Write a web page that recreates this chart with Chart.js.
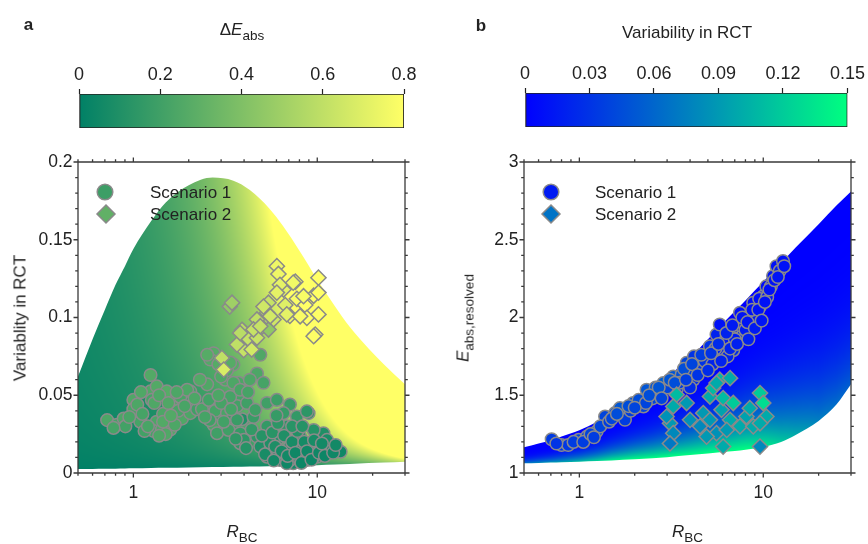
<!DOCTYPE html>
<html><head><meta charset="utf-8">
<script src="https://cdn.jsdelivr.net/npm/chart.js@4.4.1/dist/chart.umd.min.js"></script>
<style>
html,body{margin:0;padding:0;background:#fff;}
#wrap{position:relative;width:868px;height:544px;overflow:hidden;font-family:"Liberation Sans",Arial,sans-serif;color:#222;}
canvas{position:absolute;}
.t{position:absolute;white-space:nowrap;line-height:1;transform:translate(-50%,-50%);font-size:17px;}
.l{position:absolute;white-space:nowrap;line-height:1;transform:translate(0,-50%);font-size:17px;}
.sub{font-size:13.5px;position:relative;top:5px;}
svg{position:absolute;overflow:visible;}
</style></head><body>
<div id="wrap">
<canvas id="cbA" width="434" height="140" style="left:0;top:0"></canvas>
<canvas id="cbB" width="434" height="140" style="left:434px;top:0"></canvas>
<canvas id="plA" width="434" height="404" style="left:0;top:140px"></canvas>
<canvas id="plB" width="434" height="404" style="left:434px;top:140px"></canvas>

<div class="t" style="left:28.5px;top:23.5px;font-weight:bold">a</div>
<div class="t" style="left:481px;top:24.5px;font-weight:bold">b</div>
<div class="t" style="left:242px;top:29px">Δ<i>E</i><span class="sub">abs</span></div>
<div class="t" style="left:687px;top:31.5px">Variability in RCT</div>
<div class="t" style="left:20px;top:318px;transform:translate(-50%,-50%) rotate(-90deg)">Variablity in RCT</div>
<div class="t" style="left:462.5px;top:318px;transform:translate(-50%,-50%) rotate(-90deg)"><i>E</i><span class="sub">abs,resolved</span></div>
<div class="t" style="left:242px;top:531px"><i>R</i><span class="sub">BC</span></div>
<div class="t" style="left:687.5px;top:531px"><i>R</i><span class="sub">BC</span></div>

<svg style="left:96px;top:183px" width="18" height="18"><circle id="lgA1" cx="9" cy="9" r="7.8" stroke="#8a8a8a" stroke-width="1.5"/></svg>
<svg style="left:96px;top:204px" width="20" height="20"><polygon id="lgA2" points="10,1 19,10 10,19 1,10" stroke="#8a8a8a" stroke-width="1.5"/></svg>
<div class="l" style="left:150px;top:192px">Scenario 1</div>
<div class="l" style="left:150px;top:214px">Scenario 2</div>
<svg style="left:542px;top:183px" width="18" height="18"><circle id="lgB1" cx="9" cy="9" r="7.8" stroke="#8a8a8a" stroke-width="1.5"/></svg>
<svg style="left:541px;top:204px" width="20" height="20"><polygon id="lgB2" points="10,1 19,10 10,19 1,10" stroke="#8a8a8a" stroke-width="1.5"/></svg>
<div class="l" style="left:595px;top:192px">Scenario 1</div>
<div class="l" style="left:595px;top:214px">Scenario 2</div>
</div>
<script>
// ---------- axis ticks ----------
const xTicks = [0.5,0.6,0.7,0.8,0.9,1,2,3,4,5,6,7,8,9,10,20,30];
const xMajor = [1,10];
const yTicksA = [0,0.05,0.1,0.15,0.2];
const yTicksB = [1,1.5,2,2.5,3];
const cbTicksA = [0,0.2,0.4,0.6,0.8];
const cbTicksB = [0,0.03,0.06,0.09,0.12,0.15];

// ---------- envelopes ----------
const envA_rbc   = [0.5,0.6,0.7,0.8,0.9,1,1.25,1.5,2,2.7,3.5,4.3,5.5,6.5,8,10,12.5,15,19,23,30];
const envA_upper = [0.062,0.086,0.105,0.121,0.133,0.144,0.162,0.174,0.185,0.190,0.188,0.182,0.170,0.159,0.143,0.1245,0.107,0.094,0.080,0.070,0.057];
const envA_lower = [0.0025,0.0026,0.0027,0.0028,0.0029,0.003,0.0032,0.0033,0.0035,0.0038,0.004,0.0042,0.0044,0.0046,0.0048,0.005,0.0054,0.0058,0.0064,0.0068,0.0073];

const envB_rbc   = [0.5,0.6,0.7,0.8,1,1.25,1.5,2,2.5,3,4,5,6,7,8,10,12.5,15,20,25,30];
const envB_upper = [1.165,1.19,1.21,1.235,1.275,1.33,1.39,1.48,1.55,1.62,1.74,1.86,1.96,2.04,2.11,2.23,2.35,2.45,2.60,2.72,2.81];
const envB_lower = [1.062,1.065,1.067,1.069,1.073,1.077,1.081,1.088,1.095,1.102,1.115,1.125,1.135,1.142,1.15,1.168,1.20,1.245,1.335,1.44,1.57];

// colour field of panel b: largest variability at lower edge
const fieldB_rbc  = [0.5,0.7,1,1.5,2,8,10,15,20,30];
const fieldB_vmax = [0.07,0.09,0.11,0.14,0.15,0.15,0.14,0.10,0.075,0.055];

// ---------- panel a points ----------
const a_s1_rbc = [0.72,0.815,0.886,0.905,1.0,1.0,1.09,1.24,1.24,1.26,1.34,1.34,1.29,1.43,1.52,1.62,1.59,1.8,1.84,2.04,2.04,2.22,2.36,2.52,2.57,2.73,2.79,2.73,2.85,3.16,3.23,3.29,3.5,3.73,3.73,3.66,3.81,3.9,2.62,2.52,3.23,3.5,3.36,3.81,4.9,4.7,5.1,4.15,4.5,5.33,6.03,7.1,8.97,3.5,3.81,4.7,4.9,5.33,5.55,6.03,6.26,6.83,7.1,7.4,8.07,8.42,9.14,9.96,10.8,11.8,13.4,7.1,6.03,10.4,8.07,5.33,9.56,7.75,6.56,8.78,3.66,4.6,4.0,5.55,8.24,11.3,9.56,8.78,6.83,3.36,1.96,2.3,1.75,1.45,1.15,2.6,3.0,
  0.78,0.95,1.05,1.12,1.2,1.3,1.38,1.45,1.5,1.55,1.68,1.72,1.9,2.15,2.45,1.1,1.6,1.38,
  2.9,3.1,3.4,3.0,2.9,4.2,4.4,4.1,4.3,3.6,
  5.0,5.2,5.7,5.9,6.1,6.4,6.6,6.9,7.3,7.6,7.8,8.2,8.5,8.8,9.3,9.6,10.2,10.6,11.0,12.2,12.6,6.0,7.3,8.3,5.8];
const a_s1_var = [0.034,0.031,0.035,0.030,0.047,0.041,0.033,0.063,0.0525,0.047,0.0557,0.033,0.027,0.028,0.0525,0.043,0.028,0.049,0.035,0.0525,0.0385,0.041,0.041,0.057,0.047,0.077,0.040,0.031,0.0256,0.06,0.0385,0.0277,0.0697,0.058,0.049,0.043,0.0192,0.0346,0.073,0.076,0.066,0.058,0.049,0.0535,0.076,0.064,0.058,0.045,0.036,0.045,0.047,0.044,0.0385,0.036,0.0256,0.0234,0.017,0.030,0.0148,0.0213,0.0084,0.030,0.017,0.0063,0.0234,0.0127,0.0192,0.0105,0.0256,0.0159,0.0137,0.0084,0.0127,0.017,0.0084,0.0105,0.0277,0.0363,0.0385,0.0396,0.0342,0.0406,0.0213,0.0192,0.017,0.0213,0.0105,0.0084,0.0063,0.071,0.0535,0.06,0.04,0.038,0.027,0.034,0.045,
  0.029,0.036,0.044,0.038,0.03,0.045,0.05,0.033,0.025,0.045,0.031,0.052,0.043,0.048,0.036,0.052,0.037,0.024,
  0.05,0.033,0.041,0.062,0.07,0.052,0.028,0.016,0.06,0.022,
  0.024,0.012,0.026,0.017,0.032,0.014,0.024,0.011,0.02,0.013,0.027,0.0065,0.02,0.014,0.0085,0.021,0.013,0.019,0.011,0.013,0.018,0.037,0.03,0.03,0.008];
const a_s1_dE  = [0.24,0.22,0.24,0.21,0.25,0.23,0.22,0.26,0.25,0.22,0.26,0.24,0.22,0.25,0.27,0.24,0.26,0.23,0.25,0.22,0.24,0.20,0.23,0.25,0.21,0.27,0.22,0.24,0.20,0.25,0.23,0.20,0.27,0.24,0.22,0.21,0.15,0.10,0.26,0.27,0.26,0.24,0.22,0.23,0.25,0.24,0.22,0.20,0.18,0.20,0.19,0.18,0.15,0.20,0.17,0.14,0.10,0.16,0.09,0.10,0.08,0.14,0.08,0.06,0.10,0.06,0.08,0.05,0.10,0.06,0.05,0.05,0.07,0.05,0.04,0.08,0.12,0.16,0.17,0.14,0.18,0.20,0.14,0.10,0.07,0.08,0.05,0.04,0.05,0.27,0.24,0.26,0.23,0.24,0.21,0.20,0.22,
  0.22,0.23,0.24,0.22,0.23,0.25,0.24,0.26,0.25,0.25,0.24,0.24,0.23,0.24,0.22,0.25,0.26,0.24,
  0.24,0.21,0.22,0.25,0.27,0.22,0.16,0.12,0.24,0.15,
  0.12,0.08,0.13,0.09,0.14,0.07,0.10,0.06,0.08,0.05,0.11,0.04,0.07,0.05,0.04,0.08,0.05,0.06,0.04,0.05,0.06,0.17,0.13,0.12,0.06];

const a_s2_rbc = [3.34,3.44,3.98,4.24,3.98,4.7,5.0,5.33,5.43,5.78,6.03,6.15,6.56,6.7,7.1,7.6,7.75,8.6,8.78,9.56,9.75,10.15,10.15,5.43,6.27,3.9,4.7,5.1,4.4,3.66,3.03,3.1,3.81,4.5,8.42,7.4,6.03,10.15,9.56,8.07,6.83,5.55,4.9];
const a_s2_var = [0.107,0.1095,0.091,0.086,0.079,0.087,0.094,0.103,0.1095,0.0987,0.133,0.128,0.118,0.108,0.101,0.123,0.112,0.108,0.0998,0.114,0.089,0.1256,0.102,0.0923,0.121,0.092,0.0987,0.107,0.0794,0.0826,0.074,0.0665,0.09,0.0923,0.1137,0.1224,0.116,0.116,0.088,0.1008,0.102,0.1008,0.0944];
const a_s2_dE  = [0.45,0.5,0.6,0.62,0.62,0.62,0.55,0.58,0.62,0.65,0.75,0.75,0.72,0.7,0.75,0.78,0.78,0.8,0.8,0.8,0.8,0.8,0.8,0.45,0.72,0.58,0.6,0.65,0.66,0.6,0.6,0.68,0.58,0.62,0.78,0.76,0.72,0.8,0.8,0.78,0.72,0.66,0.62];

// ---------- panel b points ----------
const b_s1_rbc  = [0.707,0.80,0.87,0.99,1.10,1.24,1.38,1.56,1.77,1.66,1.96,2.23,2.32,2.74,2.86,3.24,3.38,3.83,3.6,4.34,4.17,5.13,4.92,5.57,5.8,6.05,6.6,7.16,7.47,7.78,8.82,9.0,10.0,10.4,11.3,11.8,12.8,12.3,9.6,6.87,1.3,1.45,1.9,2.1,2.5,2.6,3.0,3.5,3.9,4.0,4.5,4.8,5.3,5.5,6.2,6.4,7.0,7.5,8.0,8.5,9.2,9.5,10.5,11,4.2,3.1,2.3,
  0.75,0.93,1.05,1.15,1.2,1.5,1.6,1.85,2.0,2.4,2.7,2.8,3.3,3.7,3.8,4.1,4.4,4.6,5.0,5.2,5.7,5.9,6.3,6.6,6.8,7.2,7.7,8.2,8.3,8.7,9.0,9.4,9.8,10.2,10.8,11.5,12.0,13.0];
const b_s1_eabs = [1.217,1.18,1.18,1.213,1.234,1.266,1.363,1.385,1.342,1.417,1.45,1.428,1.535,1.503,1.578,1.621,1.535,1.708,1.632,1.729,1.6,1.815,1.75,1.89,1.955,1.79,1.88,1.944,2.03,1.89,2.095,1.987,2.137,2.2,2.267,2.33,2.363,2.3,2.07,1.79,1.30,1.33,1.40,1.47,1.48,1.55,1.55,1.58,1.64,1.55,1.66,1.72,1.70,1.80,1.85,1.75,1.86,1.95,1.92,2.02,1.98,2.12,2.13,2.2,1.75,1.60,1.45,
  1.19,1.2,1.2,1.25,1.23,1.35,1.38,1.43,1.42,1.5,1.55,1.48,1.58,1.67,1.6,1.7,1.63,1.76,1.66,1.77,1.83,1.72,1.9,1.8,1.95,1.83,2.0,1.97,1.86,2.05,1.93,2.05,1.98,2.1,2.18,2.24,2.26,2.33];
const b_s1_var  = [0.034,0.031,0.033,0.04,0.035,0.045,0.04,0.045,0.035,0.05,0.045,0.04,0.05,0.04,0.055,0.05,0.03,0.04,0.045,0.035,0.025,0.03,0.025,0.02,0.01,0.02,0.015,0.012,0.008,0.02,0.008,0.015,0.01,0.008,0.012,0.01,0.01,0.014,0.012,0.025,0.04,0.035,0.035,0.045,0.04,0.05,0.04,0.035,0.035,0.025,0.03,0.03,0.02,0.02,0.015,0.02,0.015,0.012,0.015,0.01,0.015,0.008,0.01,0.01,0.03,0.05,0.04,
  0.03,0.035,0.035,0.04,0.035,0.04,0.045,0.045,0.04,0.045,0.05,0.04,0.045,0.045,0.035,0.04,0.03,0.035,0.025,0.03,0.025,0.02,0.02,0.02,0.015,0.018,0.012,0.012,0.018,0.01,0.015,0.01,0.012,0.01,0.009,0.01,0.012,0.01];

const b_s2_rbc  = [3.11,3.24,3.11,2.98,3.38,3.24,3.83,4.0,4.53,4.72,5.13,5.13,5.57,5.8,5.93,6.05,6.05,6.6,6.6,6.33,6.87,7.47,8.1,8.45,8.82,9.6,10.0,9.6,10.4,9.6,4.92,5.34,5.57];
const b_s2_eabs = [1.32,1.256,1.19,1.363,1.503,1.428,1.45,1.342,1.3,1.385,1.492,1.342,1.256,1.6,1.406,1.482,1.17,1.61,1.342,1.277,1.45,1.3,1.363,1.417,1.3,1.514,1.45,1.17,1.363,1.32,1.234,1.546,1.578];
const b_s2_var  = [0.09,0.08,0.07,0.085,0.11,0.1,0.09,0.085,0.08,0.09,0.1,0.09,0.085,0.11,0.095,0.11,0.1,0.1,0.1,0.09,0.12,0.1,0.095,0.1,0.1,0.12,0.13,0.08,0.1,0.1,0.09,0.11,0.1];

// ---------- colour maps ----------
const clamp = (v,a,b)=>Math.max(a,Math.min(b,v));
const summer = t=>{t=clamp(t,0,1);return [255*t,127.5+127.5*t,102];};
const winter = t=>{t=clamp(t,0,1);return [0,255*t,255-127.5*t];};
const css = c=>`rgb(${Math.round(c[0])},${Math.round(c[1])},${Math.round(c[2])})`;
const DE_MAX = cbTicksA[cbTicksA.length-1], VAR_MAX = cbTicksB[cbTicksB.length-1];

function interpLog(xs, ys, x){
  const lx = Math.log10(x);
  if (x<=xs[0]) return ys[0];
  for (let i=1;i<xs.length;i++){
    if (x<=xs[i]){const a=Math.log10(xs[i-1]),b=Math.log10(xs[i]);const f=(lx-a)/(b-a);return ys[i-1]+f*(ys[i]-ys[i-1]);}
  }
  return ys[ys.length-1];
}
function colorFieldA(x,v){
  const dE = Math.min(DE_MAX, 0.35*x*Math.sqrt(Math.max(v,0))*(1-Math.exp(-Math.max(v,0)/0.006)));
  return summer(dE/DE_MAX);
}
function colorFieldB(x,E){
  const lo = interpLog(envB_rbc, envB_lower, x), up = interpLog(envB_rbc, envB_upper, x);
  const s = clamp((E-lo)/(up-lo),0,1);
  const vr = interpLog(fieldB_rbc, fieldB_vmax, x)*Math.pow(1-s,3.5);
  return winter(vr/VAR_MAX);
}
function fieldPattern(chart, colorAt){
  const a = chart.chartArea;
  if (!a) return 'rgba(0,0,0,0)';
  const key = [a.left,a.top,a.right,a.bottom].join(',');
  if (chart.$field && chart.$field.key===key) return chart.$field.pat;
  const W = chart.canvas.width, H = chart.canvas.height;
  const off = document.createElement('canvas'); off.width=W; off.height=H;
  const octx = off.getContext('2d'); const img = octx.createImageData(W,H); const d = img.data;
  const xs = chart.scales.x, ys = chart.scales.y;
  for (let py=Math.floor(a.top); py<Math.ceil(a.bottom); py++){
    const yv = ys.getValueForPixel(py+0.5);
    for (let px=Math.floor(a.left); px<Math.ceil(a.right); px++){
      const xv = xs.getValueForPixel(px+0.5);
      const c = colorAt(xv,yv); const i=(py*W+px)*4;
      d[i]=c[0]; d[i+1]=c[1]; d[i+2]=c[2]; d[i+3]=255;
    }
  }
  octx.putImageData(img,0,0);
  const pat = chart.ctx.createPattern(off,'no-repeat');
  chart.$field = {key,pat};
  return pat;
}

Chart.defaults.font.family = '"Liberation Sans", Arial, sans-serif';
Chart.defaults.color = '#222';

// frame + outward ticks on all four sides
const framePlugin = {
  id:'frame',
  afterDatasetsDraw(chart, args, o){
    const {ctx, chartArea:a} = chart; const xs = chart.scales.x, ys = chart.scales.y;
    ctx.save(); ctx.strokeStyle='#3a3a3a'; ctx.lineWidth=1.3;
    ctx.beginPath();
    ctx.rect(a.left, a.top, a.right-a.left, a.bottom-a.top);
    for (const v of xTicks){
      const px = xs.getPixelForValue(v); const L = xMajor.includes(v)?4.5:2.8;
      ctx.moveTo(px,a.bottom); ctx.lineTo(px,a.bottom+L);
      ctx.moveTo(px,a.top); ctx.lineTo(px,a.top-L);
    }
    const n = Math.round((ys.max-ys.min)/o.minor);
    for (let i=0;i<=n;i++){
      const v = ys.min+i*o.minor; const py = ys.getPixelForValue(v);
      const L = (i % o.per === 0)?4.5:2.8;
      ctx.moveTo(a.left,py); ctx.lineTo(a.left-L,py);
      ctx.moveTo(a.right,py); ctx.lineTo(a.right+L,py);
    }
    ctx.stroke(); ctx.restore();
  }
};

function plotChart(id, cfg){
  return new Chart(document.getElementById(id), {
    type:'scatter',
    data:{datasets:[
      {type:'line', label:'upper', data:cfg.env_x.map((x,i)=>({x, y:cfg.env_up[i]})), fill:1, pointRadius:0, borderWidth:0,
       borderColor:'rgba(0,0,0,0)', cubicInterpolationMode:'monotone', order:10,
       backgroundColor:(c)=>fieldPattern(c.chart, cfg.field)},
      {type:'line', label:'lower', data:cfg.env_x.map((x,i)=>({x, y:cfg.env_lo[i]})), fill:false, pointRadius:0, borderWidth:0,
       borderColor:'rgba(0,0,0,0)', cubicInterpolationMode:'monotone', order:11},
      {label:'Scenario 1', data:cfg.s1x.map((x,i)=>({x, y:cfg.s1y[i]})), pointStyle:'circle', pointRadius:6.3,
       backgroundColor:cfg.s1c, borderColor:'#8a8a8a', borderWidth:1.5, order:2},
      {label:'Scenario 2', data:cfg.s2x.map((x,i)=>({x, y:cfg.s2y[i]})), pointStyle:'rectRot', pointRadius:7.6,
       backgroundColor:cfg.s2c, borderColor:'#8a8a8a', borderWidth:1.5, order:1}
    ]},
    options:{
      responsive:false, animation:false, events:[],
      layout:{padding:{left:0, right:cfg.padR, top:22, bottom:0}},
      plugins:{legend:{display:false}, tooltip:{enabled:false}, frame:{minor:cfg.minor, per:cfg.per}},
      scales:{
        x:{type:'logarithmic', min:xTicks[0], max:xTicks[xTicks.length-1],
           afterBuildTicks:s=>{s.ticks = xTicks.map(v=>({value:v, major:xMajor.includes(v)}));},
           ticks:{autoSkip:false, maxRotation:0, padding:10, font:{size:17.5}, color:'#222',
                  callback:(v)=>xMajor.includes(v)?String(v):''},
           grid:{display:false, drawTicks:false}, border:{display:false},
           afterFit:s=>{s.height=71;}},
        y:{type:'linear', min:cfg.yt[0], max:cfg.yt[cfg.yt.length-1],
           afterBuildTicks:s=>{s.ticks = cfg.yt.map(v=>({value:v}));},
           ticks:{padding:5.5, font:{size:17.5}, color:'#222', callback:(v)=>String(+Number(v).toFixed(4))},
           grid:{display:false, drawTicks:false}, border:{display:false},
           afterFit:s=>{s.width=cfg.yw;}}
      }
    },
    plugins:[framePlugin]
  });
}

plotChart('plA', {env_x:envA_rbc, env_up:envA_upper, env_lo:envA_lower, field:colorFieldA,
  s1x:a_s1_rbc, s1y:a_s1_var, s1c:a_s1_dE.map(v=>css(summer(v/DE_MAX))),
  s2x:a_s2_rbc, s2y:a_s2_var, s2c:a_s2_dE.map(v=>css(summer(v/DE_MAX))),
  yt:yTicksA, minor:0.01, per:5, yw:78, padR:29});

plotChart('plB', {env_x:envB_rbc, env_up:envB_upper, env_lo:envB_lower, field:colorFieldB,
  s1x:b_s1_rbc, s1y:b_s1_eabs, s1c:b_s1_var.map(v=>css(winter(v/VAR_MAX))),
  s2x:b_s2_rbc, s2y:b_s2_eabs, s2c:b_s2_var.map(v=>css(winter(v/VAR_MAX))),
  yt:yTicksB, minor:0.1, per:5, yw:90, padR:17});

function colorbar(id, ticks, cmap, padL, padR, axisH, padB){
  return new Chart(document.getElementById(id), {
    type:'bar',
    data:{labels:['scale'], datasets:[{data:[[ticks[0], ticks[ticks.length-1]]],
      backgroundColor:(c)=>{const ch=c.chart, a=ch.chartArea; if(!a) return '#888';
        const xs=ch.scales.x; const g=ch.ctx.createLinearGradient(xs.getPixelForValue(ticks[0]),0,xs.getPixelForValue(ticks[ticks.length-1]),0);
        g.addColorStop(0, css(cmap(0))); g.addColorStop(1, css(cmap(1))); return g;},
      borderColor:'#222', borderWidth:1.2, borderSkipped:false, barPercentage:1, categoryPercentage:1}]},
    options:{indexAxis:'y', responsive:false, animation:false, events:[],
      layout:{padding:{left:padL, right:padR, top:0, bottom:padB}},
      plugins:{legend:{display:false}, tooltip:{enabled:false}},
      scales:{
        x:{position:'top', min:ticks[0], max:ticks[ticks.length-1],
           afterBuildTicks:s=>{s.ticks = ticks.map(v=>({value:v}));},
           ticks:{font:{size:18}, padding:3, color:'#222', callback:(v)=>String(+Number(v).toFixed(4))},
           grid:{drawOnChartArea:false, drawTicks:true, tickLength:5, color:'#222', tickColor:'#222', tickWidth:1.2},
           border:{display:false}, afterFit:s=>{s.height=axisH;}},
        y:{display:false}
      }}
  });
}
colorbar('cbA', cbTicksA, summer, 79, 30, 94, 12);
colorbar('cbB', cbTicksB, winter, 91, 18, 93, 13);

document.getElementById('lgA1').setAttribute('fill', css(summer(0.24)));
document.getElementById('lgA2').setAttribute('fill', css(summer(0.38)));
document.getElementById('lgB1').setAttribute('fill', css(winter(0.1)));
document.getElementById('lgB2').setAttribute('fill', css(winter(0.45)));
</script>
</body></html>
